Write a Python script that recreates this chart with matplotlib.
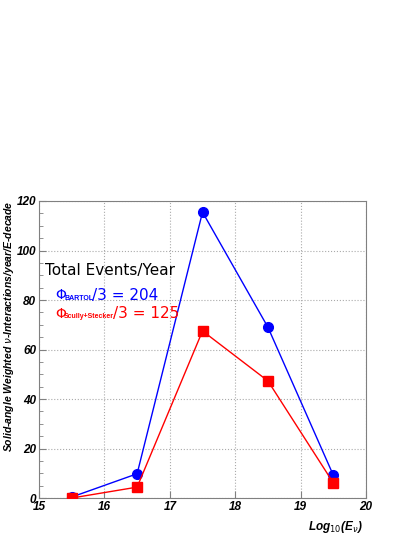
import numpy as np
import matplotlib
matplotlib.use('Agg')
from matplotlib import pyplot as plt
from matplotlib.ticker import MultipleLocator

# %% data
log_e = [15.5, 16.5, 17.5, 18.5, 19.5]
bartol = [0.4, 9.8, 115.5, 69.0, 9.2]
scully = [0.0, 4.4, 67.5, 47.3, 6.1]

x_ticks = [15, 16, 17, 18, 19, 20]
y_ticks = [0, 20, 40, 60, 80, 100, 120]

# %% plot
fig = plt.figure(figsize=[4.15, 5.37], dpi=100)
ax = fig.add_axes([0.094, 0.0726, 0.788, 0.5531])

ax.plot(log_e, bartol, color='blue', lw=1, marker='o', ms=7, zorder=3)
ax.plot(log_e, scully, color='red', lw=1, marker='s', ms=7, zorder=3)

ax.set_xlim(15, 20)
ax.set_ylim(0, 120)
ax.set_xticks(x_ticks)
ax.set_yticks(y_ticks)
ax.yaxis.set_minor_locator(MultipleLocator(5))
ax.tick_params(which='both', direction='in', top=False, right=False, length=5, color='gray')
ax.tick_params(which='minor', length=3)
ax.tick_params(axis='y', pad=2)
ax.tick_params(axis='x', pad=2)
for lab in ax.get_xticklabels() + ax.get_yticklabels():
    lab.set_fontweight('bold')
    lab.set_fontstyle('italic')
    lab.set_fontsize(8.5)
    lab.set_family('Liberation Sans')
ax.grid(True, color='#aaaaaa', linestyle=':', lw=0.8)
for sp in ax.spines.values():
    sp.set_color('gray')

ax.set_ylabel(r'Solid-angle Weighted $\nu$-Interactions/year/E-decade', fontsize=7.5,
              fontweight='bold', fontstyle='italic', family='Liberation Sans')
ax.yaxis.set_label_coords(-0.07, 0.578)
ax.set_xlabel(r'Log$_{10}$(E$_\nu$)', fontsize=8.5, fontweight='bold', fontstyle='italic',
              family='Liberation Sans', ha='right', va='center')
ax.xaxis.set_label_coords(0.989, -0.097)

# text block
ax.text(15.09, 92, 'Total Events/Year', fontsize=11, color='black', va='center',
        family='DejaVu Sans')

# flux lines: symbol, small bold subscript, then the rest
flux = [('BARTOL', '/3 = 204', 'blue', 82.0, 15.805),
        ('Scully+Stecker', '/3 = 125', 'red', 74.5, 16.125)]
for sub, rest, col, yy, x_rest in flux:
    ax.text(15.245, yy, 'Φ', fontsize=10, color=col, va='center', family='DejaVu Sans')
    ax.text(15.385, yy - 1.3, sub, fontsize=5, fontweight='bold', color=col, va='center',
            family='Liberation Sans')
    ax.text(x_rest, yy, rest, fontsize=11, color=col, va='center', family='DejaVu Sans')

fig.savefig('out.png', dpi=100)
